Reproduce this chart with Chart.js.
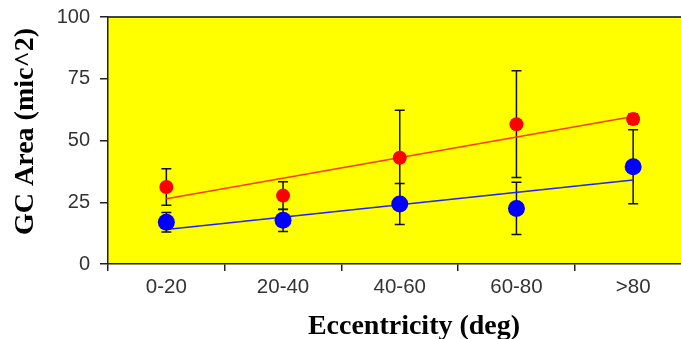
<!DOCTYPE html>
<html lang="en">

<head>
    <meta charset="UTF-8">
    <title>GC Area vs Eccentricity</title>
    <script src="https://cdn.jsdelivr.net/npm/chart.js"></script>
    <style>
        body { margin: 0; overflow: hidden; background: #fff; }
    </style>
</head>

<body>
    <canvas id="myChart" width="700" height="339"></canvas>

    <script>
        // values
        let categories = ['0-20', '20-40', '40-60', '60-80', '>80'];
        let redValues = [31.2, 27.7, 43.0, 56.6, 58.7];
        let redErrors = [7.4, 5.6, 19.2, 21.6, 2.0];
        let blueValues = [16.9, 17.7, 24.3, 22.5, 39.4];
        let blueErrors = [3.9, 4.5, 8.3, 10.6, 15.0];
        // trend line ends (first and last category)
        let redTrend = [26.4, 59.7];
        let blueTrend = [14.0, 34.0];
        let yTicks = [0, 25, 50, 75, 100];
        let xTitle = 'Eccentricity (deg)';
        let yTitle = 'GC Area (mic^2)';

        // yellow plot area + top border line
        const plotBackground = {
            id: 'plotBackground',
            beforeDraw(chart) {
                const { ctx, chartArea: a } = chart;
                ctx.save();
                ctx.fillStyle = '#ffff00';
                ctx.fillRect(a.left, a.top, a.right - a.left, a.bottom - a.top);
                ctx.strokeStyle = '#444';
                ctx.lineWidth = 2;
                ctx.beginPath();
                ctx.moveTo(a.left, a.top);
                ctx.lineTo(a.right, a.top);
                ctx.stroke();
                ctx.restore();
            }
        };

        // axis titles (placed like the original, a bit off the plot centre)
        const axisTitles = {
            id: 'axisTitles',
            afterDraw(chart) {
                const ctx = chart.ctx;
                ctx.save();
                ctx.fillStyle = '#000';
                ctx.font = 'bold 28px "Liberation Serif"';
                ctx.textAlign = 'center';
                ctx.textBaseline = 'alphabetic';
                ctx.fillText(xTitle, 414, 334);
                ctx.translate(33, 131.5);
                ctx.rotate(-Math.PI / 2);
                ctx.fillText(yTitle, 0, 0);
                ctx.restore();
            }
        };

        // error bars, drawn under the markers
        const errorBars = {
            id: 'errorBars',
            beforeDatasetsDraw(chart) {
                const ctx = chart.ctx;
                const x = chart.scales.x, y = chart.scales.y;
                const sets = [[redValues, redErrors], [blueValues, blueErrors]];
                ctx.save();
                ctx.strokeStyle = '#111';
                ctx.lineWidth = 1.5;
                sets.forEach(([vals, errs]) => {
                    vals.forEach((v, i) => {
                        const px = x.getPixelForValue(i);
                        const top = y.getPixelForValue(v + errs[i]);
                        const bot = y.getPixelForValue(v - errs[i]);
                        ctx.beginPath();
                        ctx.moveTo(px, top); ctx.lineTo(px, bot);
                        ctx.moveTo(px - 5, top); ctx.lineTo(px + 5, top);
                        ctx.moveTo(px - 5, bot); ctx.lineTo(px + 5, bot);
                        ctx.stroke();
                    });
                });
                ctx.restore();
            }
        };

        let chartData = {
            labels: categories,
            datasets: [{
                label: 'Red',
                data: redValues,
                showLine: false,
                pointRadius: 7,
                pointBackgroundColor: '#ff0000',
                pointBorderWidth: 0
            }, {
                label: 'Blue',
                data: blueValues,
                showLine: false,
                pointRadius: 8.5,
                pointBackgroundColor: '#0000ff',
                pointBorderWidth: 0
            }, {
                label: 'Red trend',
                data: [{ x: categories[0], y: redTrend[0] }, { x: categories[4], y: redTrend[1] }],
                borderColor: '#ff3c00',
                borderWidth: 1.5,
                pointRadius: 0
            }, {
                label: 'Blue trend',
                data: [{ x: categories[0], y: blueTrend[0] }, { x: categories[4], y: blueTrend[1] }],
                borderColor: '#2020ff',
                borderWidth: 1.5,
                pointRadius: 0
            }]
        };

        let chartOptions = {
            responsive: false,
            animation: false,
            layout: { padding: { top: 17, right: 8, left: 0, bottom: 0 } },
            plugins: {
                legend: { display: false },
                tooltip: { enabled: false }
            },
            scales: {
                x: {
                    offset: true,
                    afterFit: (s) => { s.height = 75; },
                    grid: { offset: true, drawOnChartArea: false, tickLength: 7, color: '#222', lineWidth: 1.5 },
                    border: { color: '#222', width: 1.5 },
                    ticks: { color: '#333', padding: 4, font: { family: 'Liberation Sans', size: 20.5 }, maxRotation: 0 }
                },
                y: {
                    min: 0,
                    max: 100,
                    // fixed width, and let the top label hang into the padding
                    afterFit: (s) => { s.width = 108; s.paddingTop = 0; s.paddingBottom = 0; },
                    afterBuildTicks: (s) => { s.ticks = yTicks.map(v => ({ value: v })); },
                    grid: { drawOnChartArea: false, tickLength: 8, color: '#222', lineWidth: 1.5 },
                    border: { color: '#222', width: 1.5 },
                    ticks: { color: '#333', padding: 10, font: { family: 'Liberation Sans', size: 20 } }
                }
            }
        };

        let myChart = new Chart(document.getElementById('myChart'), {
            type: 'line',
            data: chartData,
            options: chartOptions,
            plugins: [plotBackground, errorBars, axisTitles]
        });
    </script>
</body>

</html>
